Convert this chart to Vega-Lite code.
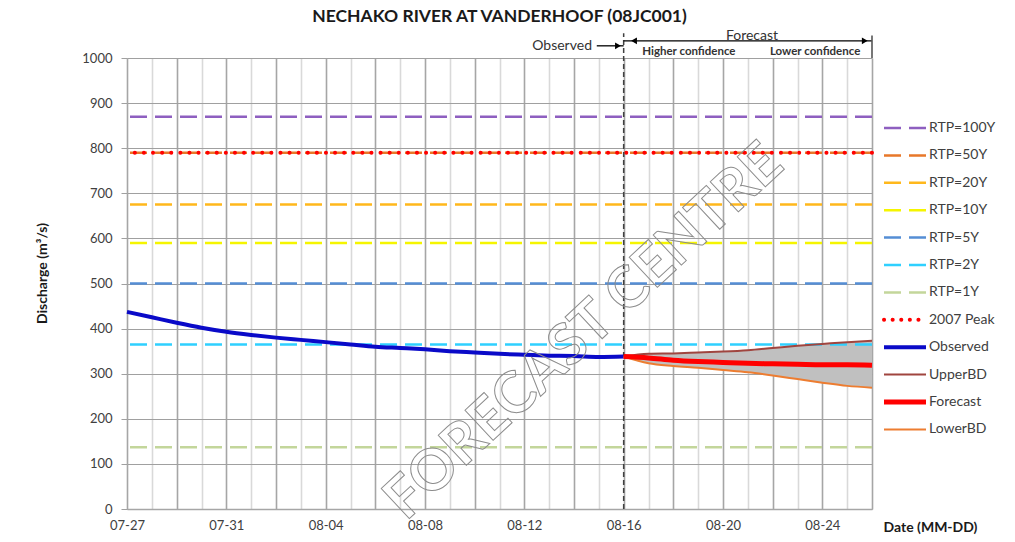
{
  "$schema": "https://vega.github.io/schema/vega-lite/v6.json",
  "width": 745,
  "height": 451,
  "autosize": {"type": "none"},
  "padding": {"left": 127, "top": 58, "right": 143, "bottom": 33},
  "background": "white",
  "config": {
    "font": "Lato",
    "view": {"stroke": null},
    "axis": {"labelFont": "Lato", "titleFont": "Lato", "labelColor": "#404040", "titleColor": "#1a1a1a", "labelFontSize": 13, "titleFontSize": 14, "titleFontWeight": "bold"}
  },
  "title": {"text": "NECHAKO RIVER AT VANDERHOOF (08JC001)", "font": "Lato", "fontSize": 17.5, "fontWeight": "bold", "color": "#1a1a1a", "anchor": "middle", "offset": 3},
  "datasets": {
    "levels": [
      {"series": "RTP=100Y", "value": 870},
      {"series": "RTP=50Y", "value": 790},
      {"series": "RTP=20Y", "value": 675},
      {"series": "RTP=10Y", "value": 590},
      {"series": "RTP=5Y", "value": 500},
      {"series": "RTP=2Y", "value": 365},
      {"series": "RTP=1Y", "value": 137},
      {"series": "2007 Peak", "value": 790}
    ],
    "observed": [
      {"date": "2023-07-27", "Observed": 437},
      {"date": "2023-07-28", "Observed": 425},
      {"date": "2023-07-29", "Observed": 413},
      {"date": "2023-07-30", "Observed": 402},
      {"date": "2023-07-31", "Observed": 393},
      {"date": "2023-08-01", "Observed": 386},
      {"date": "2023-08-02", "Observed": 380},
      {"date": "2023-08-03", "Observed": 375},
      {"date": "2023-08-04", "Observed": 370},
      {"date": "2023-08-05", "Observed": 365},
      {"date": "2023-08-06", "Observed": 360},
      {"date": "2023-08-07", "Observed": 357},
      {"date": "2023-08-08", "Observed": 354},
      {"date": "2023-08-09", "Observed": 350},
      {"date": "2023-08-10", "Observed": 347},
      {"date": "2023-08-11", "Observed": 344},
      {"date": "2023-08-12", "Observed": 342},
      {"date": "2023-08-13", "Observed": 340},
      {"date": "2023-08-14", "Observed": 339},
      {"date": "2023-08-15", "Observed": 337},
      {"date": "2023-08-16", "Observed": 338}
    ],
    "forecast": [
      {"date": "2023-08-16", "UpperBD": 338, "Forecast": 338, "LowerBD": 338},
      {"date": "2023-08-17", "UpperBD": 344, "Forecast": 335, "LowerBD": 323},
      {"date": "2023-08-18", "UpperBD": 345, "Forecast": 330, "LowerBD": 317},
      {"date": "2023-08-19", "UpperBD": 347, "Forecast": 327, "LowerBD": 313},
      {"date": "2023-08-20", "UpperBD": 349, "Forecast": 325, "LowerBD": 308},
      {"date": "2023-08-21", "UpperBD": 352, "Forecast": 323, "LowerBD": 303},
      {"date": "2023-08-22", "UpperBD": 357, "Forecast": 322, "LowerBD": 296},
      {"date": "2023-08-23", "UpperBD": 362, "Forecast": 321, "LowerBD": 288},
      {"date": "2023-08-24", "UpperBD": 366, "Forecast": 320, "LowerBD": 280},
      {"date": "2023-08-25", "UpperBD": 370, "Forecast": 320, "LowerBD": 273},
      {"date": "2023-08-26", "UpperBD": 373, "Forecast": 319, "LowerBD": 269}
    ],
    "bigNotes": [
      {"date": "2023-08-13T12:30:00Z", "value": 1027, "label": "Observed"},
      {"date": "2023-08-21T04:00:00Z", "value": 1049, "label": "Forecast"}
    ],
    "smallNotes": [
      {"date": "2023-08-18T15:00:00Z", "value": 1013, "label": "Higher confidence"},
      {"date": "2023-08-23T17:00:00Z", "value": 1013, "label": "Lower confidence"}
    ],
    "arrows": [
      {"date": "2023-08-14T22:00:00Z", "date2": "2023-08-16T00:00:00Z", "value": 1027},
      {"date": "2023-08-16T00:00:00Z", "date2": "2023-08-26T00:00:00Z", "value": 1038}
    ],
    "heads": [
      {"date": "2023-08-15T18:30:00Z", "value": 1027, "dir": "triangle-right"},
      {"date": "2023-08-16T10:00:00Z", "value": 1038, "dir": "triangle-left"},
      {"date": "2023-08-25T17:00:00Z", "value": 1038, "dir": "triangle-right"}
    ],
    "divider": [{"date": "2023-08-16", "value": 0, "value2": 1055}],
    "endbar": [{"date": "2023-08-26", "value": 1000, "value2": 1050}],
    "watermark": [{"date": "2023-08-14T10:00:00Z", "value": 392, "label": "FORECAST CENTRE"}]
  },
  "layer": [
    {
      "data": {"name": "forecast"},
      "mark": {"type": "area", "color": "#c0c0c0", "opacity": 1},
      "encoding": {
        "x": {
          "field": "date", "type": "temporal",
          "scale": {"type": "utc", "domain": [1690416000000, 1693008000000]},
          "axis": {
            "title": "Date (MM-DD)",
            "tickCount": {"interval": "day", "step": 1},
            "labelExpr": "round((datum.value - 1690416000000) / 86400000) % 4 === 0 ? utcFormat(datum.value, '%m-%d') : ''",
            "labelOverlap": false,
            "labelFlush": false,
            "grid": true,
            "gridColor": {"condition": {"test": "round((datum.value - 1690416000000) / 86400000) % 2 === 0", "value": "#a6a6a6"}, "value": "#d9d9d9"},
            "gridWidth": 1.6,
            "ticks": false,
            "domainColor": "#a6a6a6",
            "domainWidth": 1.5,
            "labelPadding": 10,
            "titleX": 803,
            "titleY": 18,
            "titleAlign": "center",
            "titleBaseline": "middle"
          }
        },
        "y": {
          "field": "UpperBD", "type": "quantitative",
          "scale": {"domain": [0, 1000], "nice": false},
          "axis": {
            "title": "Discharge (m³/s)",
            "values": [0, 100, 200, 300, 400, 500, 600, 700, 800, 900, 1000],
            "format": "d",
            "grid": true,
            "gridColor": "#a0a0a0",
            "gridWidth": 1.2,
            "tickColor": "#a0a0a0",
            "tickSize": 6,
            "domainColor": "#a6a6a6",
            "labelPadding": 9,
            "titleX": -81,
            "titleY": 215,
            "titleBaseline": "alphabetic"
          }
        },
        "y2": {"field": "LowerBD"}
      }
    },
    {
      "data": {"name": "levels"},
      "transform": [{"filter": "datum.series !== '2007 Peak'"}],
      "mark": {"type": "rule", "strokeWidth": 2.5, "strokeDash": [17, 8]},
      "encoding": {
        "y": {"field": "value", "type": "quantitative", "scale": {"domain": [0, 1000], "nice": false}},
        "color": {
          "field": "series", "type": "nominal",
          "scale": {
            "domain": ["RTP=100Y", "RTP=50Y", "RTP=20Y", "RTP=10Y", "RTP=5Y", "RTP=2Y", "RTP=1Y", "2007 Peak", "Observed", "UpperBD", "Forecast", "LowerBD"],
            "range": ["#8e5fc0", "#e8782a", "#ffb81c", "#f5f500", "#558ed5", "#2fd0ff", "#c3d69b", "#ff0000", "#0a0ac8", "#a0453f", "#ff0000", "#ed7d31"]
          },
          "legend": {
            "title": null,
            "orient": "none",
            "legendX": 756,
            "legendY": 63,
            "direction": "vertical",
            "symbolType": "stroke",
            "symbolSize": 1764,
            "symbolOffset": 15,
            "rowPadding": 13.4,
            "padding": 0,
            "labelFont": "Lato",
            "labelFontSize": 14,
            "labelColor": "#404040",
            "labelOffset": 17,
            "encode": {
              "symbols": {
                "update": {
                  "strokeDash": {"signal": "indexof(['RTP=100Y','RTP=50Y','RTP=20Y','RTP=10Y','RTP=5Y','RTP=2Y','RTP=1Y'], datum.value) >= 0 ? [17, 8] : (datum.value === '2007 Peak' ? [0.1, 8.5] : [1, 0])"},
                  "strokeWidth": {"signal": "datum.value === 'Observed' ? 4 : (datum.value === 'Forecast' ? 5 : (datum.value === '2007 Peak' ? 4 : (datum.value === 'UpperBD' || datum.value === 'LowerBD' ? 2 : 2.5)))"},
                  "strokeCap": {"signal": "datum.value === '2007 Peak' ? 'round' : 'butt'"},
                  "strokeJoin": {"value": "round"}
                }
              }
            }
          }
        }
      }
    },
    {
      "data": {"name": "levels"},
      "transform": [{"filter": "datum.series === '2007 Peak'"}],
      "mark": {"type": "rule", "strokeWidth": 4, "strokeDash": [0.1, 9], "strokeCap": "round"},
      "encoding": {
        "y": {"field": "value", "type": "quantitative", "scale": {"domain": [0, 1000], "nice": false}},
        "color": {"field": "series", "type": "nominal"}
      }
    },
    {
      "data": {"name": "divider"},
      "mark": {"type": "rule", "color": "#404040", "strokeWidth": 1.5, "strokeDash": [5, 3]},
      "encoding": {
        "x": {"field": "date", "type": "temporal"},
        "y": {"field": "value", "type": "quantitative", "scale": {"domain": [0, 1000], "nice": false}},
        "y2": {"field": "value2"}
      }
    },
    {
      "data": {"name": "observed"},
      "transform": [{"fold": ["Observed"], "as": ["series", "value"]}],
      "mark": {"type": "line", "strokeWidth": 4, "interpolate": "monotone"},
      "encoding": {
        "x": {"field": "date", "type": "temporal"},
        "y": {"field": "value", "type": "quantitative", "scale": {"domain": [0, 1000], "nice": false}},
        "color": {"field": "series", "type": "nominal"}
      }
    },
    {
      "data": {"name": "forecast"},
      "transform": [{"fold": ["UpperBD", "LowerBD"], "as": ["series", "value"]}],
      "mark": {"type": "line", "strokeWidth": 2, "interpolate": "monotone"},
      "encoding": {
        "x": {"field": "date", "type": "temporal"},
        "y": {"field": "value", "type": "quantitative", "scale": {"domain": [0, 1000], "nice": false}},
        "color": {"field": "series", "type": "nominal"}
      }
    },
    {
      "data": {"name": "forecast"},
      "transform": [{"fold": ["Forecast"], "as": ["series", "value"]}],
      "mark": {"type": "line", "strokeWidth": 5, "interpolate": "monotone"},
      "encoding": {
        "x": {"field": "date", "type": "temporal"},
        "y": {"field": "value", "type": "quantitative", "scale": {"domain": [0, 1000], "nice": false}},
        "color": {"field": "series", "type": "nominal"}
      }
    },
    {
      "data": {"name": "arrows"},
      "mark": {"type": "rule", "color": "#000000", "strokeWidth": 1.3},
      "encoding": {
        "x": {"field": "date", "type": "temporal"},
        "x2": {"field": "date2"},
        "y": {"field": "value", "type": "quantitative", "scale": {"domain": [0, 1000], "nice": false}}
      }
    },
    {
      "data": {"name": "endbar"},
      "mark": {"type": "rule", "color": "#555555", "strokeWidth": 1.6},
      "encoding": {
        "x": {"field": "date", "type": "temporal"},
        "y": {"field": "value", "type": "quantitative", "scale": {"domain": [0, 1000], "nice": false}},
        "y2": {"field": "value2"}
      }
    },
    {
      "data": {"name": "heads"},
      "mark": {"type": "point", "filled": true, "color": "#000000", "size": 45, "opacity": 1},
      "encoding": {
        "x": {"field": "date", "type": "temporal"},
        "y": {"field": "value", "type": "quantitative", "scale": {"domain": [0, 1000], "nice": false}},
        "shape": {"field": "dir", "type": "nominal", "scale": null, "legend": null}
      }
    },
    {
      "data": {"name": "bigNotes"},
      "mark": {"type": "text", "font": "Lato", "fontSize": 14, "color": "#333333", "align": "center", "baseline": "middle"},
      "encoding": {
        "x": {"field": "date", "type": "temporal"},
        "y": {"field": "value", "type": "quantitative", "scale": {"domain": [0, 1000], "nice": false}},
        "text": {"field": "label"}
      }
    },
    {
      "data": {"name": "smallNotes"},
      "mark": {"type": "text", "font": "Lato", "fontSize": 11.5, "fontWeight": "bold", "color": "#333333", "align": "center", "baseline": "middle"},
      "encoding": {
        "x": {"field": "date", "type": "temporal"},
        "y": {"field": "value", "type": "quantitative", "scale": {"domain": [0, 1000], "nice": false}},
        "text": {"field": "label"}
      }
    },
    {
      "data": {"name": "watermark"},
      "mark": {"type": "text", "font": "Lato", "fontSize": 57, "fontWeight": "bold", "angle": -43, "fillOpacity": 0, "stroke": "#8c8c8c", "strokeWidth": 1, "align": "center", "baseline": "middle"},
      "encoding": {
        "x": {"field": "date", "type": "temporal"},
        "y": {"field": "value", "type": "quantitative", "scale": {"domain": [0, 1000], "nice": false}},
        "text": {"field": "label"}
      }
    }
  ]
}
